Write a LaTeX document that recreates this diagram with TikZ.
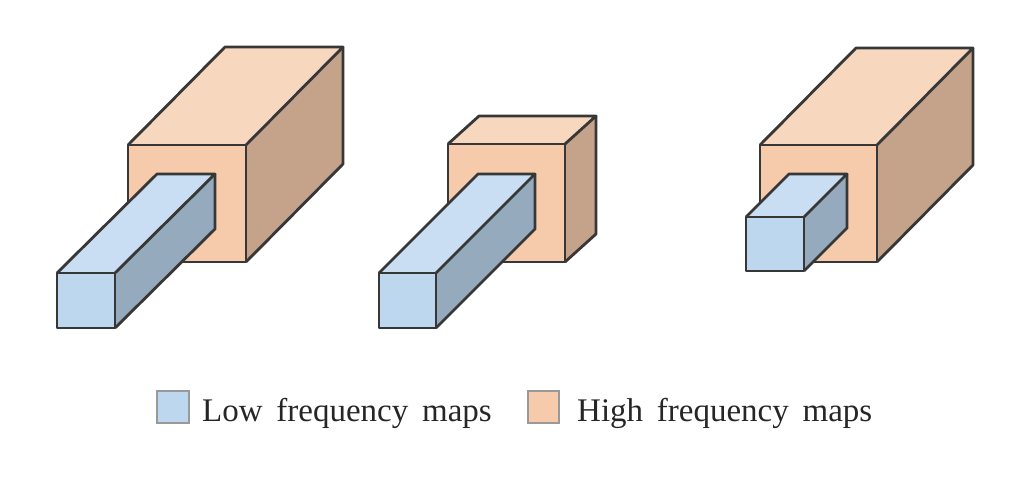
\documentclass[tikz,border=0pt]{standalone}
\usepackage{fontspec}
\setmainfont{Liberation Serif}
\definecolor{hifront}{RGB}{246,203,171}
\definecolor{hitop}{RGB}{248,215,191}
\definecolor{hiside}{RGB}{197,162,138}
\definecolor{lofront}{RGB}{189,215,238}
\definecolor{lotop}{RGB}{201,222,242}
\definecolor{loside}{RGB}{150,170,190}
\definecolor{edge}{RGB}{55,55,55}
\tikzset{
  facestyle/.style={draw=edge, line width=2.8pt, line join=round},
  legbox/.style={draw=black!40, line width=1.8pt},
  legtext/.style={anchor=base west, inner sep=0pt, font=\fontsize{33}{36}\selectfont, text=black!85}
}
% #1 x, #2 y (front top-left), #3 w, #4 h, #5 dx, #6 dy, #7 front, #8 top, #9 side
\newcommand{\drawprism}[9]{%
  \fill[#7] (#1,#2) rectangle ({#1+#3},{#2+#4});
  \fill[#8] (#1,#2) -- ({#1+#5},{#2+#6}) -- ({#1+#3+#5},{#2+#6}) -- ({#1+#3},#2) -- cycle;
  \fill[#9] ({#1+#3},#2) -- ({#1+#3+#5},{#2+#6}) -- ({#1+#3+#5},{#2+#4+#6}) -- ({#1+#3},{#2+#4}) -- cycle;
  \draw[facestyle] (#1,#2) rectangle ({#1+#3},{#2+#4});
  \draw[facestyle] (#1,#2) -- ({#1+#5},{#2+#6}) -- ({#1+#3+#5},{#2+#6}) -- ({#1+#3},#2);
  \draw[facestyle] ({#1+#3+#5},{#2+#6}) -- ({#1+#3+#5},{#2+#4+#6}) -- ({#1+#3},{#2+#4});
}
\begin{document}
\begin{tikzpicture}[x=1pt,y=-1pt]
\useasboundingbox (0,0) rectangle (1026,480);
% group 1
\drawprism{128}{145}{118}{117}{97}{-98}{hifront}{hitop}{hiside}
\drawprism{57}{273}{58}{55}{100}{-99}{lofront}{lotop}{loside}
% group 2
\drawprism{448}{144}{117}{118}{31}{-28}{hifront}{hitop}{hiside}
\drawprism{379}{273}{57}{55}{99}{-99}{lofront}{lotop}{loside}
% group 3
\drawprism{760}{145}{117}{117}{96}{-97}{hifront}{hitop}{hiside}
\drawprism{746}{217}{58}{54}{43}{-43}{lofront}{lotop}{loside}
% legend
\draw[legbox, fill=lofront] (157,391) rectangle (189,423);
\node[legtext] (lowtxt) at (202,421) {Low\, frequency\, maps};
\draw[legbox, fill=hifront] (528,391) rectangle (559,423);
\node[legtext] (hightxt) at (577,421) {High\, frequency\, maps};
\end{tikzpicture}
\end{document}
